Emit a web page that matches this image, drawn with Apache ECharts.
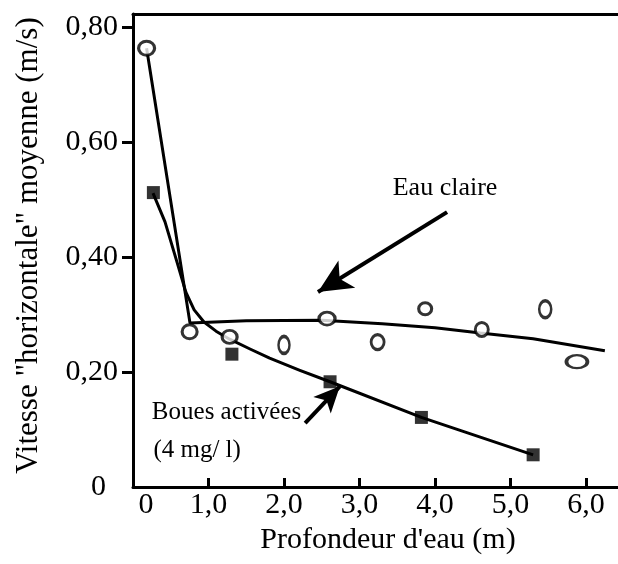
<!DOCTYPE html>
<html>
<head>
<meta charset="utf-8">
<script src="https://cdn.jsdelivr.net/npm/echarts@6/dist/echarts.min.js"></script>
<style>
html,body{margin:0;padding:0;background:#fff;}
#c{width:618px;height:564px;}
</style>
</head>
<body>
<div id="c"></div>
<script>
// ---- data ----
const xTicks = [0, 1, 2, 3, 4, 5, 6];
const yTicks = [0, 0.2, 0.4, 0.6, 0.8];
const xAxisName = "Profondeur d'eau (m)";
const yAxisName = 'Vitesse "horizontale" moyenne (m/s)';
// Eau claire (open circles) and its fitted curve
const eauClairePoints = [[0.18,0.763],[0.75,0.27],[1.28,0.261],[2.0,0.247],[2.57,0.293],[3.24,0.252],[3.87,0.31],[4.62,0.274],[5.46,0.309],[5.88,0.218]];
const eauClaireCurve = [[0.18,0.763],[0.755,0.285],[1.5,0.289],[2.5,0.290],[3.3,0.284],[4.0,0.277],[4.6,0.268],[5.3,0.258],[6.25,0.237]];
// Boues activées (filled squares) and fitted curve
const bouesPoints = [[0.27,0.512],[1.31,0.231],[2.61,0.183],[3.82,0.121],[5.30,0.056]];
const bouesCurve = [[0.265,0.511],[0.424,0.461],[0.583,0.391],[0.70,0.339],[0.81,0.308],[0.94,0.287],[1.10,0.271],[1.28,0.257],[1.55,0.240],[1.81,0.224],[2.21,0.203],[2.61,0.183],[3.82,0.121],[5.30,0.056]];
// annotations
const labelEau = 'Eau claire';
const labelBoues1 = 'Boues activées';
const labelBoues2 = '(4 mg/ l)';

// ---- styles ----
const FONT = '"Liberation Serif", "Times New Roman", serif';
const circleSizes = [[16,14],[15,14],[15,13],[11,17],[16,13],[13,15],[13,12],[13,14],[12,17],[21,13]];

const chart = echarts.init(document.getElementById('c'), null, {renderer: 'canvas'});
const option = {
  backgroundColor: '#fff',
  animation: false,
  grid: {left: 133, right: 0, top: 14, bottom: 77, containLabel: false},
  xAxis: [{
    type: 'value', min: 0, max: 6.424, position: 'bottom',
    name: xAxisName, nameLocation: 'middle', nameGap: 38,
    nameTextStyle: {fontFamily: FONT, fontSize: 30, color: '#000', padding: [0,0,0,25]},
    axisLine: {show: true, onZero: false, lineStyle: {color: '#000', width: 3}},
    axisTick: {show: true, inside: true, length: 9, lineStyle: {color: '#000', width: 3}, customValues: xTicks.slice(1)},
    axisLabel: {fontFamily: FONT, fontSize: 30, color: '#000', margin: 3, customValues: xTicks,
      formatter: v => v === 0 ? '{z|0}' : v.toFixed(1).replace('.', ','),
      rich: {z: {fontFamily: FONT, fontSize: 30, color: '#000', padding: [0,0,0,26]}}},
    splitLine: {show: false}
  }, {
    type: 'value', min: 0, max: 6.424, position: 'top',
    axisLine: {show: true, onZero: false, lineStyle: {color: '#000', width: 3}},
    axisTick: {show: false}, axisLabel: {show: false}, splitLine: {show: false}
  }],
  yAxis: {
    type: 'value', min: 0, max: 0.8226,
    name: yAxisName, nameLocation: 'middle', nameGap: 89, nameRotate: 90,
    nameTextStyle: {fontFamily: FONT, fontSize: 31, color: '#000', padding: [0,0,0,10]},
    axisLine: {show: true, onZero: false, lineStyle: {color: '#000', width: 3}},
    axisTick: {show: true, inside: false, length: 11, lineStyle: {color: '#000', width: 3}, customValues: yTicks.slice(1)},
    axisLabel: {fontFamily: FONT, fontSize: 30, color: '#000', margin: 15, customValues: yTicks,
      formatter: v => v === 0 ? '{z|0}' : v.toFixed(2).replace('.', ','),
      rich: {z: {fontFamily: FONT, fontSize: 30, color: '#000', padding: [0,12,0,0]}}},
    splitLine: {show: false}
  },
  series: [
    {
      type: 'line', data: eauClaireCurve, symbol: 'none', z: 2,
      lineStyle: {color: '#000', width: 3},
      markLine: {
        silent: true, symbol: ['none', 'arrow'], symbolSize: [24, 34],
        lineStyle: {color: '#000', width: 4, type: 'solid'}, label: {show: false},
        data: [[{coord: [4.16, 0.478]}, {coord: [2.45, 0.339]}]]
      },
      markPoint: {
        symbol: 'circle', symbolSize: 0, silent: true,
        label: {show: true, position: 'right', distance: 0, formatter: labelEau, fontFamily: FONT, fontSize: 26, color: '#000'},
        data: [{coord: [3.44, 0.52]}]
      }
    },
    {
      type: 'line', data: bouesCurve, symbol: 'none', z: 2, smooth: false,
      lineStyle: {color: '#000', width: 3, join: 'round'},
      markLine: {
        silent: true, symbol: ['none', 'arrow'], symbolSize: [18, 26],
        lineStyle: {color: '#000', width: 4, type: 'solid'}, label: {show: false},
        data: [[{coord: [2.28, 0.111]}, {coord: [2.74, 0.175]}]]
      },
      markPoint: {
        symbol: 'circle', symbolSize: 0, silent: true,
        label: {show: true, position: 'right', distance: 0, fontFamily: FONT, fontSize: 25, color: '#000'},
        data: [
          {coord: [0.25, 0.129], label: {formatter: labelBoues1}},
          {coord: [0.27, 0.064], label: {formatter: labelBoues2}}
        ]
      }
    },
    {
      type: 'scatter', data: eauClairePoints, symbol: 'circle', z: 5,
      symbolSize: (v, p) => circleSizes[p.dataIndex],
      itemStyle: {color: '#fff', borderColor: '#000', borderWidth: 3}
    },
    {
      type: 'scatter', data: bouesPoints, symbol: 'rect', symbolSize: 13, z: 5,
      itemStyle: {color: '#000'}
    }
  ]
};
chart.setOption(option);
</script>
</body>
</html>
